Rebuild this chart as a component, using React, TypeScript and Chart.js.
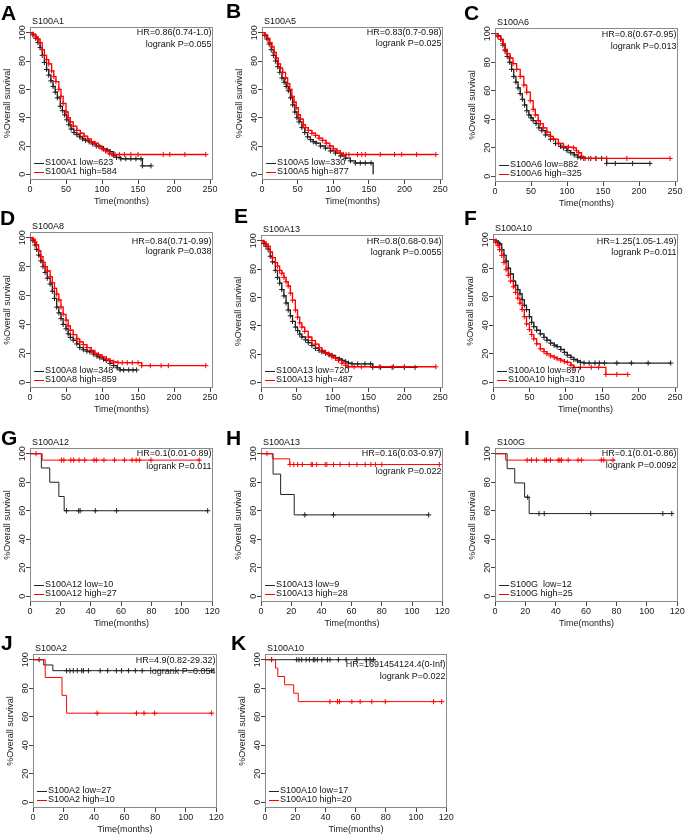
import React, { useEffect, useRef } from 'react';
import { Chart, registerables } from 'chart.js';

Chart.register(...registerables);

type Pt = [number, number];

const FONT = '"Liberation Sans", Arial, Helvetica, sans-serif';
const BLACK = '#222222';
const RED = '#ff0000';

const Y_TICKS = [0, 20, 40, 60, 80, 100];
const X_TICKS_LONG = [0, 50, 100, 150, 200, 250];
const X_TICKS_SHORT = [0, 20, 40, 60, 80, 100, 120];

// ---- Panel A: S100A1 ----
const A_low: Pt[] = [[0,100],[4,98.5],[8,96],[11,93],[14,89.5],[17,84],[20,79],[23,74],[26,70],[29,66],[32,62],[35,58],[38,54],[42,48],[45,45],[48,42],[51,38.5],[54,35],[57,32],[61,29.5],[65,28],[69,26.5],[73,25],[77,24],[82,23],[87,21.5],[92,20],[97,19.5],[102,18],[107,17],[111,16],[116,13.5],[120,12],[126,11],[133,11],[140,11],[147,11],[154,11],[156,6],[168,6]];
const A_high: Pt[] = [[0,100],[4,99],[8,97],[11,95.5],[14,93],[17,88],[20,84],[23,81],[26,78],[30,73],[33,69],[36,65.5],[40,60],[43,55],[46,50],[50,44],[53,40],[56,37],[60,34],[65,31],[70,29],[75,27],[80,25],[85,23],[90,22],[95,20],[100,18],[105,16.5],[110,14.5],[114,14],[118,14],[124,14],[131,14],[140,14],[150,14],[185,14],[194,14],[215,14],[244,14]];

// ---- Panel B: S100A5 ----
const B_low: Pt[] = [[0,100],[4,98],[7,95.5],[10,92],[13,88],[16,84],[19,80],[22,76],[25,72],[28,68],[31,65],[34,62],[37,59],[40,54],[43,49],[46,44],[49,40],[52,37],[56,33],[60,29.5],[64,26.5],[68,24.5],[72,23],[76,22],[82,20],[89,18.5],[96,16.5],[103,15],[110,13],[117,11.4],[124,9.5],[131,8],[138,8],[145,8],[153,8],[156,0]];
const B_high: Pt[] = [[0,100],[4,98.5],[8,96],[11,93],[14,90],[17,86],[20,82],[23,78],[26,75],[29,72],[33,68],[36,64],[39,60],[42,55],[45,51],[48,47],[51,42],[54,39],[58,35],[61,33],[65,31],[70,29],[75,27.5],[80,25.5],[85,24],[90,22],[95,20],[100,18],[105,16.5],[110,15],[114,14],[118,14],[122,14],[134,14],[140,14],[145,14],[166,14],[186,14],[196,14],[217,14],[244,14]];

// ---- Panel C: S100A6 ----
const C_low: Pt[] = [[0,100],[4,98.5],[8,96],[11,92],[14,88],[17,84],[20,80],[23,75],[26,70],[29,66],[32,62],[35,58],[38,54],[41,50],[44,46],[47,43],[50,41],[53,39],[57,37],[61,34],[65,32],[70,29],[77,26],[84,23],[91,21],[95,20],[100,18],[105,16.5],[110,15],[115,13.5],[119,13],[125,12.5],[133,12.5],[140,12.5],[148,12.5],[155,9],[167,9],[191,9],[215,9]];
const C_high: Pt[] = [[0,100],[4,98],[8,96],[11,93],[14,89],[17,86],[21,83],[25,79],[30,75],[35,70],[40,64],[44,59],[49,53],[53,47],[56,43],[60,39],[63,37],[67,34],[72,31],[77,28],[81,26],[88,23],[95,21],[102,20.5],[109,20],[113,18],[116,16.5],[120,14],[123,12.5],[130,12.5],[140,12.5],[155,12.5],[183,12.5],[243,12.5]];

// ---- Panel D: S100A8 ----
const D_low: Pt[] = [[0,100],[4,98],[7,95],[9,92],[12,88],[15,84],[18,80],[21,76],[24,72],[28,68],[31,63],[34,58],[37,52],[40,48],[43,44],[46,40],[50,37],[53,33.5],[56,31],[60,29],[65,26.5],[69,24],[74,22.5],[79,21.5],[83,21],[88,19.5],[93,18],[97,17],[102,16],[106,15],[111,13],[116,11.5],[121,10],[125,8.5],[130,8.5],[137,8.5],[143,8.5],[148,8.5]];
const D_high: Pt[] = [[0,100],[4,99],[7,97],[9,95],[12,91],[15,87],[18,83],[21,80],[24,77],[28,73],[31,69],[34,65],[37,61],[40,57],[43,52],[46,47],[50,43],[53,39],[56,36],[60,33],[65,30],[69,28],[74,26],[79,24],[85,22],[90,20],[95,19],[100,17.5],[106,16],[111,15],[116,14],[122,13.5],[128,13.5],[135,13.5],[142,13.5],[150,13.5],[155,11.5],[167,11.5],[182,11.5],[192,11.5],[244,11.5]];

// ---- Panel E: S100A13 ----
const E_low: Pt[] = [[0,100],[4,98],[7,96],[10,94],[13,89],[16,85],[20,79],[23,74],[26,70],[29,65.5],[32,61],[35,56],[38,51],[41,47],[44,43],[48,39],[51,36.5],[54,34],[57,32],[62,30],[66,28],[71,26],[76,24],[81,22.5],[85,21.5],[90,20.5],[95,19.5],[99,19],[104,17.5],[109,16.5],[113,15.5],[118,14.5],[122,13.5],[127,13],[135,13],[145,13],[153,13],[156,10.5],[167,10.5],[183,10.5],[200,10.5],[215,10.5]];
const E_high: Pt[] = [[0,100],[4,99],[7,97.5],[10,96],[13,92],[16,88],[20,84.5],[23,82],[26,79],[29,77],[32,74],[35,71],[38,68],[41,63],[44,58],[48,51],[51,46],[54,42],[57,39],[61,36],[66,32],[71,29.5],[76,27],[81,24.5],[85,22.5],[90,21],[94,20],[99,18],[104,17],[108,15.5],[113,13.5],[118,12],[122,11],[130,11],[140,11],[165,11],[185,11],[200,11],[244,11]];

// ---- Panel F: S100A10 ----
const F_low: Pt[] = [[0,100],[4,99],[7,98],[9,97],[12,93],[15,89],[18,85],[21,80],[24,76],[28,71],[31,68],[34,65],[37,62],[40,58],[43,54],[46,51],[50,46],[53,42],[56,39],[60,36.5],[65,34],[70,31.5],[74,29.5],[79,27.5],[84,26],[88,25],[93,23],[98,21],[102,19],[107,17.5],[111,16],[116,15],[120,14],[125,13.5],[132,13.5],[140,13.5],[146,13.5],[153,13.5],[170,13.5],[190,13.5],[213,13.5],[244,13.5]];
const F_high: Pt[] = [[0,100],[4,98],[7,96],[9,93],[12,89],[15,84],[18,79],[21,75],[24,71],[28,67],[31,63],[34,59],[37,55.5],[40,51],[43,46],[46,41],[50,37],[53,33.5],[56,30.5],[60,27],[65,23.5],[70,21.5],[74,20],[79,18.5],[84,17.5],[88,16.5],[93,15.5],[98,14.5],[102,14],[107,12],[111,10.5],[120,10.5],[135,10.5],[145,10.5],[155,5.5],[170,5.5],[185,5.5]];

// ---- Panel G: S100A12 ----
const G_low: Pt[] = [[0,100],[7.5,90],[13,80],[19,70],[22.5,60],[117,60]];
const G_lowCens = [24, 32, 33, 43, 57, 117];
const G_high: Pt[] = [[0,100],[8,95.5],[112,95.5]];
const G_highCens = [4, 20.7, 22.3, 26.9, 28.8, 32.3, 36, 42.2, 43.7, 48.7, 55.7, 62.2, 67.2, 69.9, 72, 79.7, 111.4];

// ---- Panel H: S100A13 ----
const H_low: Pt[] = [[0,100],[8,85.7],[13,71.4],[22,57.1],[111,57.1]];
const H_lowCens = [29, 48, 111];
const H_high: Pt[] = [[0,100],[7.5,96.4],[19,92.4],[118,92.4]];
const H_highCens = [4, 19.2, 21.7, 24.3, 27.4, 33.2, 34, 36.9, 42.5, 43.6, 48, 52.4, 58.4, 63.5, 69, 72.8, 75.7, 80, 118];

// ---- Panel I: S100G ----
const I_low: Pt[] = [[0,100],[8,89.5],[13,79.5],[19.5,69.5],[22.5,58],[117,58]];
const I_lowCens = [21.5, 29, 32.4, 63, 110.5, 116.4];
const I_high: Pt[] = [[0,100],[7,95.5],[79,95.5]];
const I_highCens = [21.2, 24, 27.3, 32.8, 33.9, 36.5, 41.6, 42.7, 43.8, 48.2, 54.7, 56.9, 70, 71.6, 77.7];

// ---- Panel J: S100A2 ----
const J_low: Pt[] = [[0,100],[7,96.3],[13,92.3],[117,92.3]];
const J_lowCens = [4, 22, 24.2, 26.4, 29, 31.9, 33, 36.3, 44, 48.9, 54.6, 58, 62.5, 67, 71.5, 117];
const J_high: Pt[] = [[0,100],[8,87.5],[19,75],[22,62.5],[117,62.5]];
const J_highCens = [42, 67.8, 72.7, 79.7, 117];

// ---- Panel K: S100A10 ----
const K_low: Pt[] = [[0,100],[73,100]];
const K_lowCens = [4.4, 21, 22.5, 24.3, 27.2, 29.4, 32, 33, 34.7, 37.6, 41.3, 43, 48.6, 53.7, 60.8, 67, 69.6, 71.8];
const K_high: Pt[] = [[0,100],[7,94.1],[8.5,88.2],[13,82.4],[19,76.5],[22,70.6],[117,70.6]];
const K_highCens = [43, 48, 49.3, 57.5, 63, 70.7, 79.6, 111.6, 117];

interface Panel {
  letter: string;
  gene: string;
  hr: string;
  p: string;
  lowLabel: string;
  highLabel: string;
  low: Pt[];
  high: Pt[];
  lowCens?: number[];
  highCens?: number[];
  long: boolean;
  box: [number, number, number, number];
  hrDy: number;
  pDy: number;
  letterXY: [number, number];
}

const PANELS: Panel[] = [
  { letter: 'A', gene: 'S100A1', hr: 'HR=0.86(0.74-1.0)', p: 'logrank P=0.055', lowLabel: 'S100A1 low=623', highLabel: 'S100A1 high=584', low: A_low, high: A_high, long: true, box: [30, 27, 213, 180], hrDy: 6, pDy: 18, letterXY: [1, 2] },
  { letter: 'B', gene: 'S100A5', hr: 'HR=0.83(0.7-0.98)', p: 'logrank P=0.025', lowLabel: 'S100A5 low=330', highLabel: 'S100A5 high=877', low: B_low, high: B_high, long: true, box: [262, 27, 443, 180], hrDy: 6, pDy: 17, letterXY: [226, 0] },
  { letter: 'C', gene: 'S100A6', hr: 'HR=0.8(0.67-0.95)', p: 'logrank P=0.013', lowLabel: 'S100A6 low=882', highLabel: 'S100A6 high=325', low: C_low, high: C_high, long: true, box: [495, 28, 678, 182], hrDy: 7, pDy: 19, letterXY: [464, 2] },
  { letter: 'D', gene: 'S100A8', hr: 'HR=0.84(0.71-0.99)', p: 'logrank P=0.038', lowLabel: 'S100A8 low=348', highLabel: 'S100A8 high=859', low: D_low, high: D_high, long: true, box: [30, 232, 213, 388], hrDy: 10, pDy: 20, letterXY: [0, 207] },
  { letter: 'E', gene: 'S100A13', hr: 'HR=0.8(0.68-0.94)', p: 'logrank P=0.0055', lowLabel: 'S100A13 low=720', highLabel: 'S100A13 high=487', low: E_low, high: E_high, long: true, box: [261, 235, 443, 388], hrDy: 7, pDy: 18, letterXY: [234, 205] },
  { letter: 'F', gene: 'S100A10', hr: 'HR=1.25(1.05-1.49)', p: 'logrank P=0.011', lowLabel: 'S100A10 low=897', highLabel: 'S100A10 high=310', low: F_low, high: F_high, long: true, box: [493, 234, 678, 388], hrDy: 8, pDy: 19, letterXY: [464, 207] },
  { letter: 'G', gene: 'S100A12', hr: 'HR=0.1(0.01-0.89)', p: 'logrank P=0.011', lowLabel: 'S100A12 low=10', highLabel: 'S100A12 high=27', low: G_low, high: G_high, lowCens: G_lowCens, highCens: G_highCens, long: false, box: [30, 448, 213, 602], hrDy: 6, pDy: 19, letterXY: [1, 427] },
  { letter: 'H', gene: 'S100A13', hr: 'HR=0.16(0.03-0.97)', p: 'logrank P=0.022', lowLabel: 'S100A13 low=9', highLabel: 'S100A13 high=28', low: H_low, high: H_high, lowCens: H_lowCens, highCens: H_highCens, long: false, box: [261, 448, 443, 602], hrDy: 6, pDy: 24, letterXY: [226, 427] },
  { letter: 'I', gene: 'S100G', hr: 'HR=0.1(0.01-0.86)', p: 'logrank P=0.0092', lowLabel: 'S100G  low=12', highLabel: 'S100G high=25', low: I_low, high: I_high, lowCens: I_lowCens, highCens: I_highCens, long: false, box: [495, 448, 678, 602], hrDy: 6, pDy: 18, letterXY: [464, 427] },
  { letter: 'J', gene: 'S100A2', hr: 'HR=4.9(0.82-29.32)', p: 'logrank P=0.054', lowLabel: 'S100A2 low=27', highLabel: 'S100A2 high=10', low: J_low, high: J_high, lowCens: J_lowCens, highCens: J_highCens, long: false, box: [33, 654, 217, 808], hrDy: 7, pDy: 18, letterXY: [1, 632] },
  { letter: 'K', gene: 'S100A10', hr: 'HR=1691454124.4(0-Inf)', p: 'logrank P=0.022', lowLabel: 'S100A10 low=17', highLabel: 'S100A10 high=20', low: K_low, high: K_high, lowCens: K_lowCens, highCens: K_highCens, long: false, box: [265, 654, 447, 808], hrDy: 11, pDy: 23, letterXY: [231, 632] },
];

function survAt(curve: Pt[], t: number): number {
  let s = curve[0][1];
  for (const [ti, si] of curve) {
    if (ti <= t) s = si;
    else break;
  }
  return s;
}

function vertexTimes(curve: Pt[]): number[] {
  return curve.filter(([t, s]) => t > 0 && s > 0).map(([t]) => t);
}

function stepLine(curve: Pt[], color: string, width: number, order: number) {
  return {
    type: 'line' as const,
    data: curve.map(([x, y]) => ({ x, y })),
    borderColor: color,
    borderWidth: width,
    stepped: 'before' as const,
    pointRadius: 0,
    fill: false,
    order,
  };
}

function censor(curve: Pt[], times: number[], color: string, r: number, order: number) {
  return {
    type: 'scatter' as const,
    data: times.map((t) => ({ x: t, y: survAt(curve, t) })),
    showLine: false,
    pointStyle: 'cross' as const,
    pointRadius: r,
    borderColor: color,
    pointBorderColor: color,
    pointBorderWidth: 1,
    order,
  };
}

function makePlugin(p: Panel) {
  return {
    id: 'kmAnnot',
    beforeDatasetsDraw(chart: any) {
      const { ctx, chartArea: ca } = chart;
      ctx.save();
      ctx.strokeStyle = '#8a8a8a';
      ctx.lineWidth = 1;
      ctx.strokeRect(ca.left + 0.5, ca.top + 0.5, ca.right - ca.left - 1, ca.bottom - ca.top - 1);
      ctx.restore();
    },
    afterDraw(chart: any) {
      const { ctx, chartArea: ca, scales } = chart;
      const ys = scales.y;
      ctx.save();
      ctx.font = `9px ${FONT}`;
      ctx.fillStyle = '#222';
      for (const t of ys.ticks) {
        const py = ys.getPixelForValue(t.value);
        ctx.save();
        ctx.translate(ca.left - 7.5, py);
        ctx.rotate(-Math.PI / 2);
        ctx.textAlign = 'center';
        ctx.textBaseline = 'middle';
        ctx.fillText(String(t.value), 0, 0);
        ctx.restore();
      }
      ctx.textAlign = 'left';
      ctx.textBaseline = 'middle';
      ctx.fillStyle = '#111';
      ctx.fillText(p.gene, ca.left + 2, ca.top - 5);
      ctx.textAlign = 'right';
      ctx.fillText(p.hr, ca.right - 1.5, ca.top + p.hrDy);
      ctx.fillText(p.p, ca.right - 1.5, ca.top + p.pDy);
      const rows: [string, string, number][] = [
        [p.lowLabel, BLACK, ca.bottom - 17.5],
        [p.highLabel, RED, ca.bottom - 8.5],
      ];
      ctx.textAlign = 'left';
      for (const [label, color, y] of rows) {
        ctx.strokeStyle = color;
        ctx.lineWidth = 1;
        ctx.beginPath();
        ctx.moveTo(ca.left + 4, Math.round(y) + 0.5);
        ctx.lineTo(ca.left + 14, Math.round(y) + 0.5);
        ctx.stroke();
        ctx.fillStyle = '#111';
        ctx.fillText(label, ca.left + 15, y);
      }
      ctx.restore();
    },
  };
}

function buildConfig(p: Panel): any {
  const xMax = p.long ? 254 : 120.5;
  const xTicks = p.long ? X_TICKS_LONG : X_TICKS_SHORT;
  const lowC = p.lowCens ?? vertexTimes(p.low);
  const highC = p.highCens ?? vertexTimes(p.high);
  const r = p.long ? 2.6 : 2.6;
  const lw = p.long ? 1.3 : 1;
  const font = { family: FONT, size: 9 };
  const grid = {
    display: true,
    drawOnChartArea: false,
    drawTicks: true,
    tickLength: 4,
    tickColor: '#444',
    color: '#444',
  };
  return {
    type: 'line',
    data: {
      datasets: [
        censor(p.high, highC, RED, r, 0),
        stepLine(p.high, RED, lw, 1),
        censor(p.low, lowC, BLACK, r, 2),
        stepLine(p.low, BLACK, lw, 3),
      ],
    },
    options: {
      responsive: false,
      animation: false,
      events: [],
      layout: { padding: { left: 4, top: 14, right: 10, bottom: 2 } },
      plugins: {
        legend: { display: false },
        tooltip: { enabled: false },
        title: { display: false },
      },
      scales: {
        x: {
          type: 'linear',
          min: 0,
          max: xMax,
          afterBuildTicks: (s: any) => {
            s.ticks = xTicks.map((v) => ({ value: v }));
          },
          afterFit: (s: any) => {
            s.height = 28;
          },
          ticks: { font, color: '#222', padding: 0, maxRotation: 0, minRotation: 0, autoSkip: false },
          grid,
          border: { display: false },
          title: { display: true, text: 'Time(months)', font, color: '#222', padding: { top: 0, bottom: 1 } },
        },
        y: {
          type: 'linear',
          min: -4,
          max: 104,
          afterBuildTicks: (s: any) => {
            s.ticks = Y_TICKS.map((v) => ({ value: v }));
          },
          afterFit: (s: any) => {
            s.width = 28;
          },
          ticks: { display: false },
          grid,
          border: { display: false },
          title: { display: true, text: '%Overall survival', font, color: '#222', padding: 0 },
        },
      },
    },
    plugins: [makePlugin(p)],
  };
}

function KMPanel({ spec }: { spec: Panel }) {
  const ref = useRef<HTMLCanvasElement>(null);
  useEffect(() => {
    if (!ref.current) return;
    const chart = new Chart(ref.current, buildConfig(spec));
    return () => chart.destroy();
  }, [spec]);
  const [bl, bt, br, bb] = spec.box;
  const w = br - bl + 42;
  const h = bb - bt + 44;
  return (
    <>
      <canvas
        ref={ref}
        width={w}
        height={h}
        style={{ position: 'absolute', left: bl - 32, top: bt - 14, width: w, height: h }}
      />
      <div
        style={{
          position: 'absolute',
          left: spec.letterXY[0],
          top: spec.letterXY[1],
          font: `bold 21px ${FONT}`,
          lineHeight: '21px',
          color: '#000',
        }}
      >
        {spec.letter}
      </div>
    </>
  );
}

export default function App() {
  return (
    <div
      style={{
        position: 'absolute',
        left: 0,
        top: 0,
        width: 685,
        height: 836,
        overflow: 'hidden',
        background: '#fff',
      }}
    >
      {PANELS.map((p) => (
        <KMPanel key={p.letter} spec={p} />
      ))}
    </div>
  );
}
